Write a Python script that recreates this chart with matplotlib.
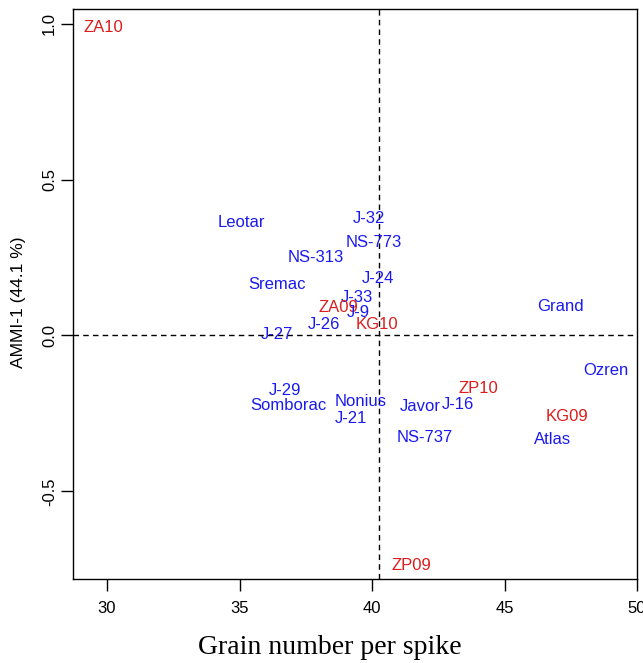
import matplotlib
matplotlib.use("Agg")
import matplotlib.pyplot as plt

labels = ["ZA10", "Leotar", "J-32", "NS-773", "NS-313", "Sremac", "J-24", "J-33",
          "ZA09", "J-9", "Grand", "J-26", "KG10", "J-27", "Ozren", "ZP10", "J-29",
          "Nonius", "J-16", "Somborac", "Javor", "KG09", "J-21", "NS-737", "Atlas", "ZP09"]
grain = [29.85, 35.08, 39.88, 40.07, 37.87, 36.40, 40.22, 39.42,
         38.72, 39.50, 47.10, 38.17, 40.18, 36.43, 48.84, 44.00, 36.70,
         39.58, 43.26, 36.86, 41.81, 47.34, 39.20, 42.00, 46.80, 41.47]
ammi1 = [0.989, 0.362, 0.375, 0.298, 0.250, 0.163, 0.182, 0.121,
         0.089, 0.073, 0.092, 0.034, 0.034, 0.002, -0.112, -0.171, -0.175,
         -0.213, -0.223, -0.226, -0.229, -0.261, -0.265, -0.329, -0.335, -0.737]
kind = ["env", "gen", "gen", "gen", "gen", "gen", "gen", "gen",
        "env", "gen", "gen", "gen", "env", "gen", "gen", "env", "gen",
        "gen", "gen", "gen", "gen", "env", "gen", "gen", "gen", "env"]
mean_grain = 40.26
xticks = [30, 35, 40, 45, 50]
yticks = [-0.5, 0.0, 0.5, 1.0]

colors = {"gen": "#1a1aee", "env": "#dd1c1c"}

W, H = 643, 663
left, right, top, bottom = 73, 637, 9, 578.5
fig = plt.figure(figsize=(W/100, H/100), dpi=100)
ax = fig.add_axes([left/W, 1-bottom/H, (right-left)/W, (bottom-top)/H])

for lab, x, y, k in zip(labels, grain, ammi1, kind):
    ax.text(x, y, lab, color=colors[k], ha="center", va="center",
            fontsize=12, family="Liberation Sans")

ax.axvline(mean_grain, color="black", linestyle=(0, (4, 3)), linewidth=1)
ax.axhline(0, color="black", linestyle=(0, (4, 3)), linewidth=1)

ax.set_xlim(28.716, 50.0)
ax.set_ylim(-0.78, 1.048)
ax.set_xticks(xticks)
ax.set_xticklabels([str(t) for t in xticks], family="Liberation Sans", fontsize=12)
ax.set_yticks(yticks)
ax.set_yticklabels(["-0.5", "0.0", "0.5", "1.0"], family="Liberation Sans",
                   fontsize=12, rotation=90, va="center")
ax.tick_params(axis="both", direction="out", length=8.5, width=1)
ax.tick_params(axis="x", pad=8)
ax.tick_params(axis="y", pad=3)
for s in ax.spines.values():
    s.set_linewidth(1)
    s.set_clip_on(False)

ax.set_xlabel("Grain number per spike", family="Liberation Serif", fontsize=20)
ax.xaxis.set_label_coords((330-left)/(right-left), -(648-bottom)/(bottom-top))
ax.xaxis.label.set_va("center")
ax.set_ylabel("AMMI-1 (44.1 %)", family="Liberation Sans", fontsize=12.5)
ax.yaxis.set_label_coords(-(left-19)/(right-left), (bottom-302)/(bottom-top))
ax.yaxis.label.set_va("center")

fig.savefig("out.png", dpi=100)
